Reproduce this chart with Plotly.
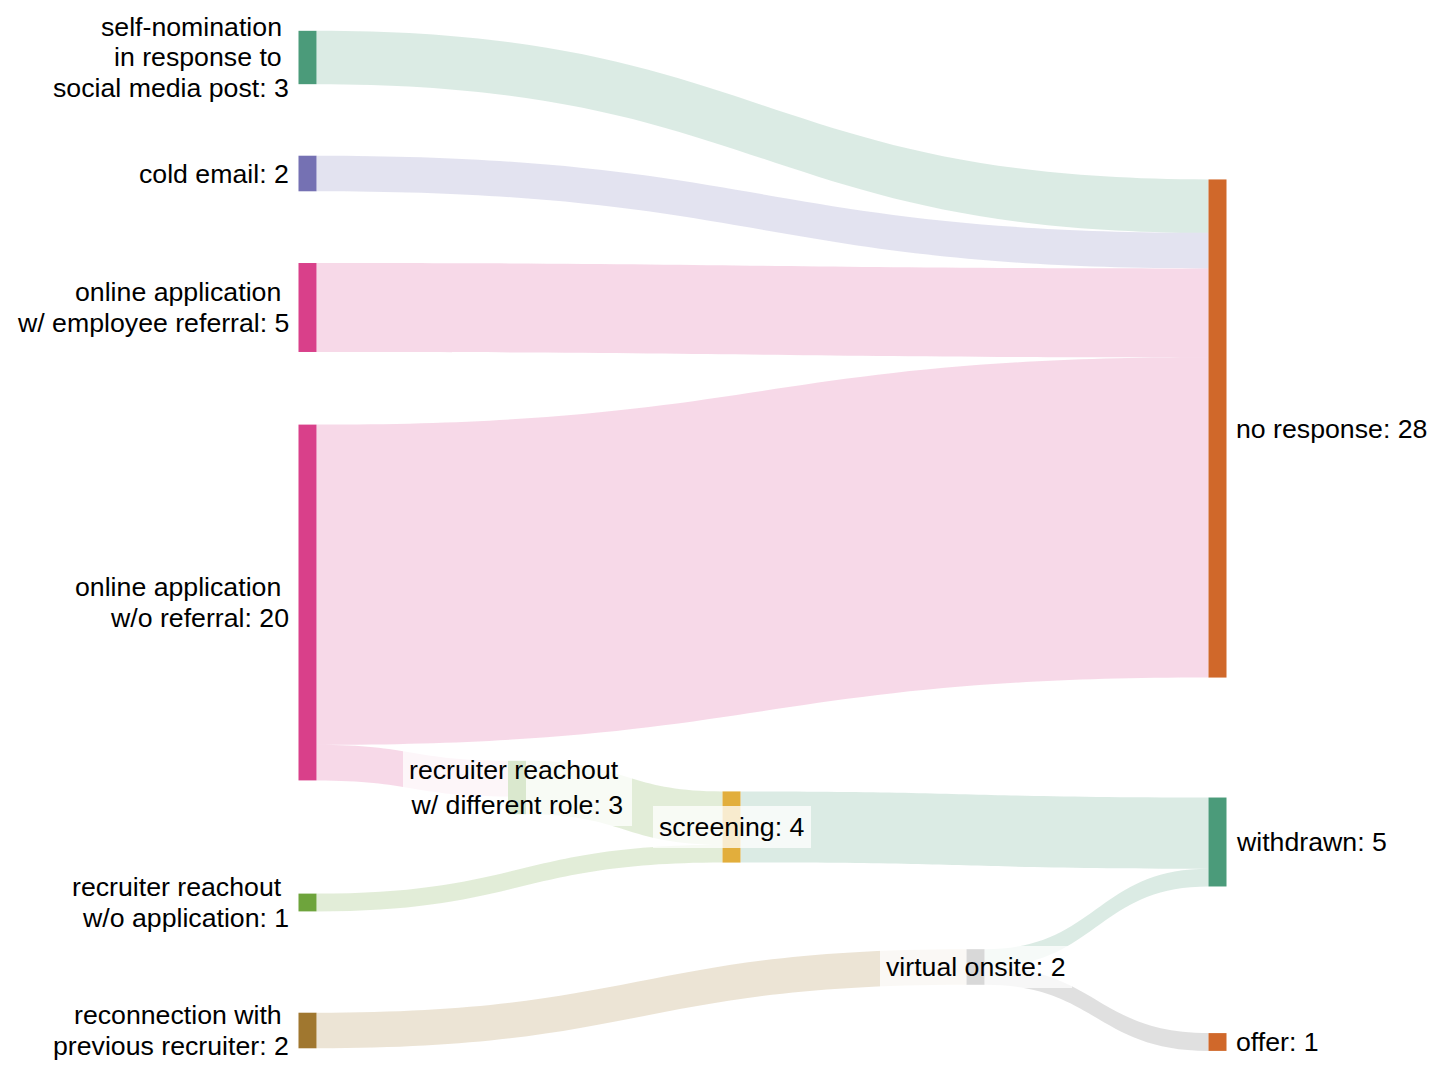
import plotly.graph_objects as go

# ---------------- data ----------------
node_names = [
    "self-nomination\nin response to\nsocial media post",
    "cold email",
    "online application\nw/ employee referral",
    "online application\nw/o referral",
    "recruiter reachout\nw/o application",
    "reconnection with\nprevious recruiter",
    "recruiter reachout\nw/ different role",
    "screening",
    "virtual onsite",
    "no response",
    "withdrawn",
    "offer",
]

link_source = [
    "self-nomination\nin response to\nsocial media post",
    "cold email",
    "online application\nw/ employee referral",
    "online application\nw/o referral",
    "online application\nw/o referral",
    "recruiter reachout\nw/ different role",
    "recruiter reachout\nw/o application",
    "screening",
    "reconnection with\nprevious recruiter",
    "virtual onsite",
    "virtual onsite",
]
link_target = [
    "no response",
    "no response",
    "no response",
    "no response",
    "recruiter reachout\nw/ different role",
    "screening",
    "screening",
    "withdrawn",
    "virtual onsite",
    "withdrawn",
    "offer",
]
link_value = [3, 2, 5, 18, 2, 3, 1, 4, 2, 1, 1]

# ---------------- styles / layout ----------------
W, H = 1447, 1080
PAGE_OFFSET = 8          # default body margin of the page holding the figure
FONT = "Liberation Sans, Arial, Helvetica, sans-serif"
FONT_SIZE = 26.7
LINE_STEP = 30.8
THICK = 18
PX_PER_UNIT = 17.79
LABEL_GAP = 9.5

node_colors = [
    "#4b9b7a", "#7571b3", "#d9408a", "#d9408a", "#6ea43c", "#a0772f",
    "#6ea43c", "#e2ae3c", "#666666", "#d0682a", "#4b9b7a", "#d0682a",
]
# node whose colour each link takes
link_color_from = [
    "self-nomination\nin response to\nsocial media post",
    "cold email",
    "online application\nw/ employee referral",
    "online application\nw/o referral",
    "online application\nw/o referral",
    "recruiter reachout\nw/ different role",
    "recruiter reachout\nw/o application",
    "withdrawn",
    "reconnection with\nprevious recruiter",
    "withdrawn",
    "virtual onsite",
]
LINK_ALPHA = 0.2

# node centres in screen pixels (manual arrangement)
node_cx = [307.5, 307.5, 307.5, 307.5, 307.5, 307.5, 517, 731.5, 975.5, 1217.5, 1217.5, 1217.5]
node_cy = [57.5, 173.5, 307.5, 602.5, 902.5, 1030.5, 787.5, 827, 967, 428.5, 842, 1042]
label_side = ["left"] * 6 + ["box", "box", "box"] + ["right"] * 3

# ---------------- build ----------------
idx = {n: i for i, n in enumerate(node_names)}
src = [idx[s] for s in link_source]
tgt = [idx[t] for t in link_target]

inflow = [0] * len(node_names)
outflow = [0] * len(node_names)
for s, t, v in zip(src, tgt, link_value):
    outflow[s] += v
    inflow[t] += v
node_value = [max(a, b) for a, b in zip(inflow, outflow)]


def rgba(hexc, a):
    h = hexc.lstrip("#")
    r, g, b = int(h[0:2], 16), int(h[2:4], 16), int(h[4:6], 16)
    return f"rgba({r},{g},{b},{a})"


def fx(px):
    return (px - PAGE_OFFSET) / W


def fy(py):
    return (py - PAGE_OFFSET) / H


link_colors = [rgba(node_colors[idx[n]], LINK_ALPHA) for n in link_color_from]

# column with the most value determines the node scale
left_total = sum(node_value[i] for i in range(6))
pad = (H - left_total * PX_PER_UNIT) / 5

hover_names = [n.replace("\n", " ") for n in node_names]

fig = go.Figure(go.Sankey(
    arrangement="fixed",
    node=dict(
        label=[""] * len(node_names),
        customdata=hover_names,
        hovertemplate="%{customdata}: %{value}<extra></extra>",
        color=node_colors,
        thickness=THICK,
        pad=pad,
        line=dict(width=0),
        x=[fx(cx) for cx in node_cx],
        y=[fy(cy) for cy in node_cy],
    ),
    link=dict(
        source=src,
        target=tgt,
        value=link_value,
        color=link_colors,
        hoverinfo="none",
    ),
))

annotations = []
for name, val, cx, cy, side in zip(node_names, node_value, node_cx, node_cy, label_side):
    lines = name.split("\n")
    n = len(lines)
    texts = [ln + ("\u00a0" if i < n - 1 else f": {val}") for i, ln in enumerate(lines)]
    if side == "box":
        annotations.append(dict(
            text="<br>".join(texts), x=fx(cx), y=1 - fy(cy),
            xref="paper", yref="paper", xanchor="center", yanchor="middle",
            align="center", showarrow=False,
            bgcolor="rgba(255,255,255,0.75)", borderpad=6, borderwidth=0,
            font=dict(family=FONT, size=FONT_SIZE, color="#000"),
        ))
        continue
    for i, t in enumerate(texts):
        ly = cy + (i - (n - 1) / 2) * LINE_STEP
        if side == "left":
            x, xa, al = fx(cx - THICK / 2 - LABEL_GAP), "right", "right"
        else:
            x, xa, al = fx(cx + THICK / 2 + LABEL_GAP), "left", "left"
        annotations.append(dict(
            text=t, x=x, y=1 - fy(ly), xref="paper", yref="paper",
            xanchor=xa, yanchor="middle", align=al, showarrow=False,
            borderpad=0, borderwidth=0,
            font=dict(family=FONT, size=FONT_SIZE, color="#000"),
        ))

fig.update_layout(
    width=W, height=H,
    margin=dict(l=0, r=0, t=0, b=0, pad=0),
    paper_bgcolor="white",
    plot_bgcolor="white",
    annotations=annotations,
    font=dict(family=FONT, size=FONT_SIZE, color="#000"),
)

fig.write_html("out.html")
